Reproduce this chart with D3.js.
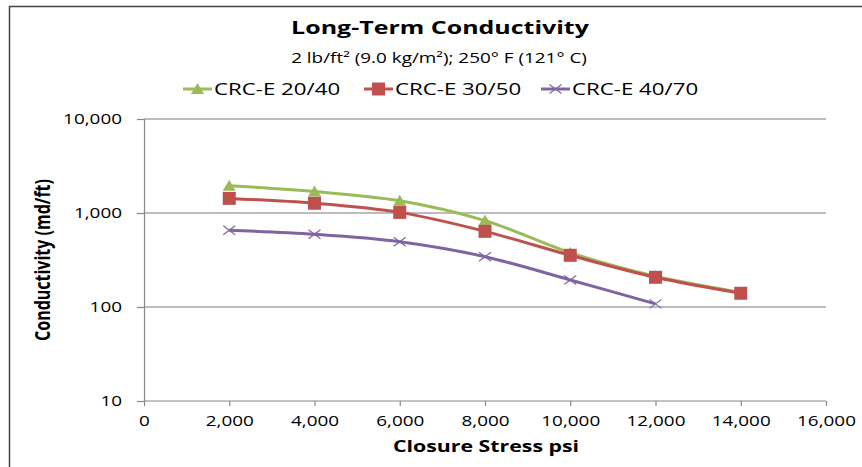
<!DOCTYPE html>
<html><head><meta charset="utf-8">
<script src="https://cdn.jsdelivr.net/npm/d3@7"></script>
<style>body{margin:0;background:#fff}svg{display:block}text{font-family:"Open Sans",sans-serif}</style>
</head><body>
<svg id="c" width="862" height="467"></svg>
<script>
const stress = [2000, 4000, 6000, 8000, 10000, 12000, 14000];
const crc2040 = [1950, 1690, 1350, 830, 378, 212, 143];
const crc3050 = [1430, 1270, 1015, 638, 355, 207, 140];
const crc4070 = [654, 594, 495, 343, 194, 108];
const seriesNames = ["CRC-E 20/40", "CRC-E 30/50", "CRC-E 40/70"];
const xTicks = [0, 2000, 4000, 6000, 8000, 10000, 12000, 14000, 16000];
const yTicks = [10, 100, 1000, 10000];

const colors = ["#9BBB59", "#C0504D", "#8064A2"];
const SX = 1.35; // horizontal stretch of the original text
const svg = d3.select("#c");
const L = 144, R = 826, T = 119, B = 401;
const x = d3.scaleLinear().domain([0, 16000]).range([L, R]);
const y = d3.scaleLog().domain([10, 10000]).range([B, T]);
const fmt = d3.format(",");

function stext(px, py, str, size, anchor, bold) {
  return svg.append("text").attr("transform", `translate(${px},${py}) scale(${SX},1)`)
    .attr("text-anchor", anchor).attr("font-size", size).attr("font-weight", bold ? "bold" : "normal")
    .attr("fill", "#000").text(str);
}

// border
svg.append("line").attr("x1", 9).attr("x2", 862).attr("y1", 6.5).attr("y2", 6.5).attr("stroke", "#444").attr("stroke-width", 1.5);
svg.append("line").attr("x1", 9.5).attr("x2", 9.5).attr("y1", 6).attr("y2", 467).attr("stroke", "#444").attr("stroke-width", 1.5);

// gridlines
svg.append("g").selectAll("line").data(yTicks.slice(1)).join("line")
  .attr("x1", L).attr("x2", R).attr("y1", d => y(d)).attr("y2", d => y(d))
  .attr("stroke", "#A6A6A6").attr("stroke-width", 1.5);

// axes
const xa = svg.append("g").attr("transform", `translate(0,${B})`)
  .call(d3.axisBottom(x).tickValues(xTicks).tickFormat(fmt).tickSize(5).tickPadding(10));
const ya = svg.append("g").attr("transform", `translate(${L},0)`)
  .call(d3.axisLeft(y).tickValues(yTicks).tickFormat(fmt).tickSize(7).tickPadding(15));
[xa, ya].forEach(a => {
  a.select(".domain").attr("stroke", "#888").attr("stroke-width", 1.2);
  a.selectAll(".tick line").attr("stroke", "#888").attr("stroke-width", 1.2);
  a.selectAll("text").attr("font-size", 14).attr("fill", "#000").attr("font-family", "Open Sans")
    .attr("transform", `scale(${SX},1)`);
});
xa.select(".domain").attr("d", `M${L},0H${R}`);
ya.selectAll("text").attr("x", -22 / SX);

// series
const data = [crc2040, crc3050, crc4070];
const line = d3.line().x(d => x(d[0])).y(d => y(d[1])).curve(d3.curveCatmullRom.alpha(0));
const g = svg.append("g");
data.forEach((vals, i) => {
  const pts = vals.map((v, j) => [stress[j], v]);
  g.append("path").attr("d", line(pts)).attr("fill", "none").attr("stroke", colors[i]).attr("stroke-width", 3);
});
function marker(sel, i, cx, cy) {
  if (i === 0) {
    sel.append("path").attr("d", `M${cx},${cy - 6}L${cx + 6.5},${cy + 5}L${cx - 6.5},${cy + 5}Z`).attr("fill", colors[0]);
  } else if (i === 1) {
    sel.append("rect").attr("x", cx - 6.5).attr("y", cy - 6.5).attr("width", 13).attr("height", 13).attr("fill", colors[1]);
  } else {
    sel.append("path").attr("d", `M${cx - 6},${cy - 4.5}L${cx + 6},${cy + 4.5}M${cx - 6},${cy + 4.5}L${cx + 6},${cy - 4.5}`)
      .attr("stroke", colors[2]).attr("stroke-width", 1.2).attr("fill", "none");
  }
}
data.forEach((vals, i) => {
  vals.forEach((v, j) => marker(g, i, x(stress[j]), y(v)));
});

// titles
stext(440, 34, "Long-Term Conductivity", 18.5, "middle", true);
stext(439, 63, "2 lb/ft² (9.0 kg/m²); 250° F (121° C)", 14, "middle", false);

// legend
const lx = [183, 364, 541];
seriesNames.forEach((n, i) => {
  const lg = svg.append("g");
  lg.append("line").attr("x1", lx[i]).attr("x2", lx[i] + 29).attr("y1", 89).attr("y2", 89).attr("stroke", colors[i]).attr("stroke-width", 3);
  marker(lg, i, lx[i] + 14.5, 89);
  stext(lx[i] + 31, 95, n, 16.5, "start", false);
});

// axis titles
stext(486, 452, "Closure Stress psi", 15.8, "middle", true);
svg.append("text").attr("transform", `translate(50,260) scale(${SX},1) rotate(-90)`)
  .attr("text-anchor", "middle").attr("font-size", 16).attr("font-weight", "bold").text("Conductivity (md/ft)");
</script>
</body></html>
